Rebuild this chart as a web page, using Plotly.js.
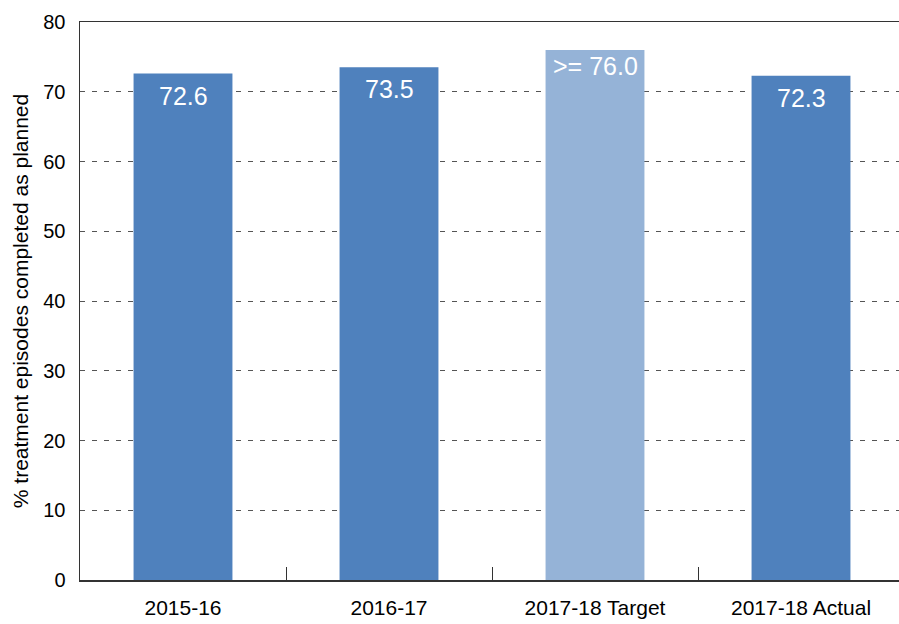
<!DOCTYPE html>
<html>
<head>
<meta charset="utf-8">
<script src="https://cdn.plot.ly/plotly-3.0.1.min.js"></script>
<style>html,body{margin:0;padding:0;background:#fff;overflow:hidden;width:899px;height:624px;}#chart{width:904px;height:624px;}</style>
</head>
<body>
<div id="chart"></div>
<script>
const categories = ["2015-16", "2016-17", "2017-18 Target", "2017-18 Actual"];
const values = [72.6, 73.5, 76.0, 72.3];
const labels = ["72.6", "73.5", ">= 76.0", "72.3"];
const barColors = ["#4F81BD", "#4F81BD", "#95B3D7", "#4F81BD"];
const yTitle = "% treatment episodes completed as planned";

const trace = {
  type: "bar",
  x: categories,
  y: values,
  marker: {color: barColors, line: {width: 0}},
  width: 0.48,
  hoverinfo: "none"
};

const annotations = categories.map((c, i) => ({
  x: c, y: values[i], xref: "x", yref: "y",
  text: labels[i], showarrow: false,
  yanchor: "top", yshift: i === 2 ? 0 : -6,
  font: {family: "Liberation Sans, Arial, sans-serif", size: 25, color: "#ffffff"}
}));

const layout = {
  width: 904, height: 624,
  margin: {l: 80, r: 0, t: 22, b: 44},
  paper_bgcolor: "#ffffff", plot_bgcolor: "#ffffff",
  showlegend: false,
  font: {family: "Liberation Sans, Arial, sans-serif", color: "#000000"},
  xaxis: {
    type: "category",
    showline: true, mirror: true, linecolor: "#333333", linewidth: 1.5,
    ticks: "inside", tickson: "boundaries", ticklen: 13, tickcolor: "#333333", tickwidth: 1,
    showgrid: false, zeroline: false,
    tickfont: {size: 21, color: "#000000"},
    ticklabelstandoff: 8
  },
  yaxis: {
    range: [0, 80], dtick: 10, tick0: 0,
    showline: true, linecolor: "#333333", linewidth: 1.5,
    ticks: "", showgrid: true, gridcolor: "#555555", gridwidth: 1, griddash: "5px,7px",
    zeroline: false,
    tickfont: {size: 20, color: "#000000"},
    ticklabelstandoff: 9,
    title: {text: yTitle, font: {size: 21, color: "#000000"}, standoff: 9}
  },
  annotations: annotations
};

Plotly.newPlot("chart", [trace], layout, {displayModeBar: false, staticPlot: true});
</script>
</body>
</html>
